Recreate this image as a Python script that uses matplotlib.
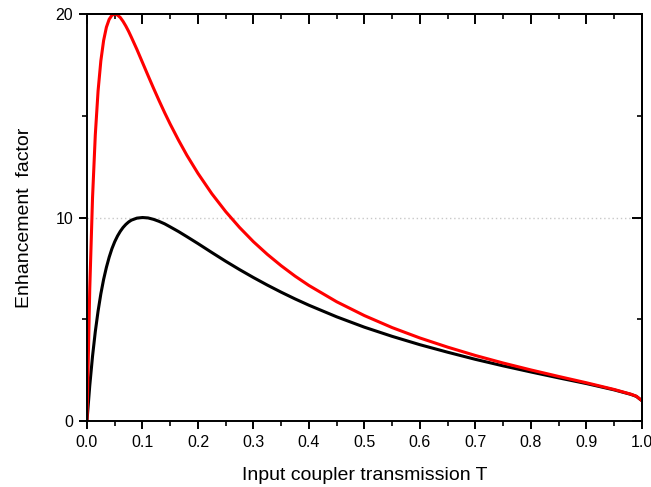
import matplotlib
matplotlib.use("Agg")
import matplotlib.pyplot as plt
from matplotlib.ticker import MultipleLocator, NullFormatter

# transmission values (x) and enhancement
T = [0.0, 0.005, 0.01, 0.015, 0.02, 0.025, 0.03, 0.035, 0.04, 0.045, 0.05,
     0.055, 0.06, 0.065, 0.07, 0.075, 0.08, 0.09, 0.1, 0.11, 0.12, 0.13, 0.14,
     0.15, 0.165, 0.18, 0.2, 0.225, 0.25, 0.275, 0.3, 0.325, 0.35, 0.375, 0.4,
     0.45, 0.5, 0.55, 0.6, 0.65, 0.7, 0.75, 0.8, 0.85, 0.9, 0.95, 0.98, 0.99,
     1.0]
red_vals = [0.0, 6.49, 10.96, 14.06, 16.22, 17.70, 18.70, 19.35, 19.74, 19.94,
            20.0, 19.95, 19.83, 19.64, 19.41, 19.15, 18.86, 18.26, 17.62, 16.98,
            16.35, 15.74, 15.15, 14.59, 13.80, 13.06, 12.17, 11.17, 10.29, 9.51,
            8.81, 8.19, 7.63, 7.12, 6.66, 5.86, 5.18, 4.59, 4.08, 3.63, 3.22,
            2.85, 2.51, 2.19, 1.88, 1.55, 1.32, 1.22, 1.0]
black_vals = [0.0, 1.73, 3.18, 4.39, 5.40, 6.25, 6.96, 7.55, 8.05, 8.47, 8.81,
              9.09, 9.32, 9.51, 9.66, 9.78, 9.87, 9.97, 10.0, 9.98, 9.91, 9.81,
              9.69, 9.54, 9.31, 9.06, 8.72, 8.28, 7.85, 7.44, 7.05, 6.68, 6.33,
              6.0, 5.69, 5.12, 4.61, 4.16, 3.75, 3.38, 3.03, 2.71, 2.41, 2.12,
              1.84, 1.53, 1.31, 1.21, 1.0]

plt.rcParams['font.family'] = ['Liberation Sans', 'DejaVu Sans']

fig = plt.figure(figsize=(6.51, 4.87), dpi=100)
ax = fig.add_axes([0.1336, 0.1355, 0.8524, 0.8357])

ax.axhline(10, color='#c8c8c8', lw=1, ls=(0, (1, 2)), zorder=0)
ax.plot(T, black_vals, color='black', lw=2.2, solid_joinstyle='round')
ax.plot(T, red_vals, color='red', lw=2.2, solid_joinstyle='round')

ax.set_xlim(0, 1.0)
ax.set_ylim(0, 20)
ax.xaxis.set_major_locator(MultipleLocator(0.1))
ax.xaxis.set_minor_locator(MultipleLocator(0.05))
ax.yaxis.set_major_locator(MultipleLocator(10))
ax.yaxis.set_minor_locator(MultipleLocator(5))
ax.set_xticklabels([f"{v:.1f}" for v in ax.get_xticks()])

for s in ax.spines.values():
    s.set_linewidth(1.4)
ax.tick_params(which='major', direction='out', length=6, width=1.4,
               labelsize=11.5, pad=4)
ax.tick_params(which='minor', direction='out', length=3.5, width=1.2)

# top and right axes with inward ticks, no labels
top = ax.secondary_xaxis('top')
top.xaxis.set_major_locator(MultipleLocator(0.1))
top.xaxis.set_minor_locator(MultipleLocator(0.05))
top.xaxis.set_major_formatter(NullFormatter())
top.tick_params(which='major', direction='in', length=7, width=1.4)
top.tick_params(which='minor', direction='in', length=3.5, width=1.2)
right = ax.secondary_yaxis('right')
right.yaxis.set_major_locator(MultipleLocator(10))
right.yaxis.set_minor_locator(MultipleLocator(5))
right.yaxis.set_major_formatter(NullFormatter())
right.tick_params(which='major', direction='in', length=7, width=1.4)
right.tick_params(which='minor', direction='in', length=3.5, width=1.2)
for sec in (top, right):
    for s in sec.spines.values():
        s.set_linewidth(1.4)

ax.set_xlabel("Input coupler transmission T", fontsize=14, labelpad=12)
ax.set_ylabel("Enhancement  factor", fontsize=14, labelpad=16)

fig.savefig("out.png", dpi=100)
